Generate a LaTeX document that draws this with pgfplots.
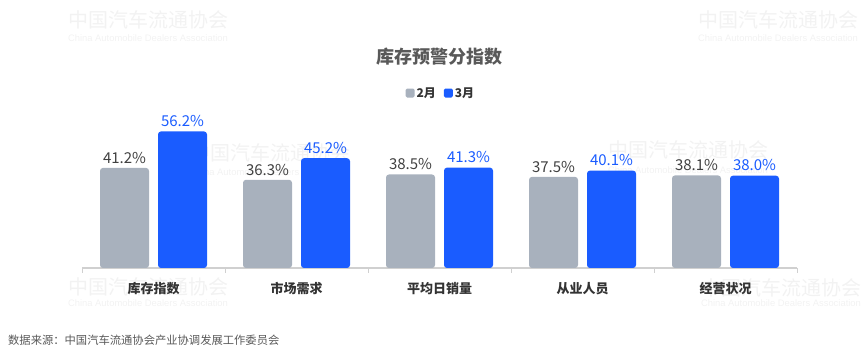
\documentclass[border=0pt]{standalone}
\usepackage{fontspec}
\setmainfont{Noto Sans CJK SC}
\newfontfamily\wmlatin{Liberation Sans}
\usepackage{pgfplots}
\pgfplotsset{compat=1.18}
\definecolor{bgray}{HTML}{A8B1BD}
\definecolor{bblue}{HTML}{1A5CFF}
\definecolor{axisgray}{HTML}{D0D0D0}
\definecolor{labgray}{HTML}{333333}
\definecolor{numgray}{HTML}{404040}
\definecolor{titlegray}{HTML}{595959}
\definecolor{wm}{HTML}{F2F2F2}
\begin{document}
\begin{tikzpicture}
\useasboundingbox (0,0) rectangle (865pt,356pt);
% watermarks
\begin{scope}[every node/.style={text=wm, inner sep=0pt}]
\foreach \x/\y/\ye in {148/336/318, 778/336/318, 270/203/184, 688/206/186, 148/69/53, 781/68/53}{
  \node[font=\fontsize{20}{22}\selectfont] at (\x pt,\y pt) {中国汽车流通协会};
  \node[font=\wmlatin\fontsize{9.4}{11}\selectfont] at (\x pt,\ye pt) {China Automobile Dealers Association};
}
\end{scope}
\node[anchor=west, inner sep=0pt, text=titlegray, font=\fontsize{11.3}{13}\selectfont] at (8pt,16pt) {数据来源：中国汽车流通协会产业协调发展工作委员会};
\begin{axis}[
  at={(82pt,88pt)}, anchor=south west,
  scale only axis, width=715pt, height=145.8pt,
  ymin=0, ymax=60, xmin=-0.5, xmax=4.5,
  axis x line*=bottom, axis y line=none,
  x axis line style={draw=axisgray, line width=1.3pt, -},
  xtick={-0.5,0.5,1.5,2.5,3.5,4.5},
  x tick label as interval,
  xticklabels={库存指数,市场需求,平均日销量,从业人员,经营状况},
  major tick length=5pt, tick align=outside,
  xtick style={draw=axisgray, line width=1pt},
  xticklabel style={font=\bfseries\fontsize{13}{15}\selectfont, text=labgray, yshift=-6pt},
  ybar=9pt, bar width=49pt,
  clip=false,
  /pgf/number format/assume math mode=true,
  nodes near coords={\pgfmathprintnumber[fixed,fixed zerofill,precision=1]{\pgfplotspointmeta}\%},
  every node near coord/.append style={font=\fontsize{15}{17}\selectfont, anchor=south, yshift=1pt},
  title={库存预警分指数},
  title style={at={(0.5,1.406)}, anchor=center, font=\bfseries\fontsize{18}{20}\selectfont, text=titlegray},
  legend columns=2,
  legend style={at={(0.502,1.2)}, anchor=center, draw=none, fill=none,
    font=\bfseries\fontsize{12}{14}\selectfont, text=labgray,
    /tikz/every even column/.append style={column sep=6pt}},
  legend image code/.code={\fill[#1, draw=none, rounded corners=1.5pt] (0pt,-4.5pt) rectangle (9pt,4.5pt);},
]
\addplot[fill=bgray, draw=none, rounded corners=3pt,
  every node near coord/.append style={text=numgray}]
  coordinates {(0,41.2) (1,36.3) (2,38.5) (3,37.5) (4,38.1)};
\addplot[fill=bblue, draw=none, rounded corners=3pt,
  every node near coord/.append style={text=bblue}]
  coordinates {(0,56.2) (1,45.2) (2,41.3) (3,40.1) (4,38.0)};
\legend{2月,3月}
\end{axis}
\end{tikzpicture}
\end{document}
